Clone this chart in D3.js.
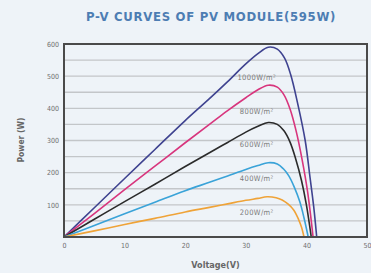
<!DOCTYPE html>
<html>
<head>
<meta charset="utf-8">
<script src="https://cdn.jsdelivr.net/npm/d3@7"></script>
<style>
  body { margin: 0; background: #eef3f8; }
  svg { display: block; }
</style>
</head>
<body>
<div class="center"></div>
<script>
// irradiance series (label, colour) and their P-V points [voltage, power]
const seriesNames = ["1000W/m²", "800W/m²", "600W/m²", "400W/m²", "200W/m²"];
const seriesColors = ["#3f4390", "#d8357d", "#2b2b2b", "#3aa3d8", "#efa338"];

const curve1000 = [[0,0],[5,91],[10,182],[15,272],[20,362],[24,430],[27,483],[30,538],[32,570],[33.7,590],[35.2,584],[36.4,556],[37.4,505],[38.5,420],[39.8,300],[40.6,185],[41.2,95],[41.7,0]];
const curve800  = [[0,0],[5,73],[10,147],[15,220],[20,293],[24,350],[27,393],[30,433],[32,458],[33.7,472],[35.2,466],[36.3,442],[37.3,398],[38.3,330],[39.3,240],[40.2,140],[41.1,0]];
const curve600  = [[0,0],[5,55],[10,110],[15,164],[20,219],[24,262],[27,294],[30,326],[32,344],[33.7,356],[35.2,350],[36.3,330],[37.3,295],[38.2,245],[39.2,175],[40,100],[40.8,0]];
const curve400  = [[0,0],[5,36],[10,72],[15,108],[20,144],[24,170],[27,190],[30,210],[32,222],[33.7,231],[35.2,227],[36.2,212],[37.1,190],[38,155],[38.9,110],[39.6,60],[40.3,0]];
const curve200  = [[0,0],[5,19],[10,39],[15,58],[20,78],[24,92],[27,103],[30,114],[32,120],[33.5,125],[35,122],[36,115],[37,102],[37.9,84],[38.7,55],[39.2,30],[39.6,0]];
const curves = [curve1000, curve800, curve600, curve400, curve200];

// axis ticks
const xTicks = [0, 10, 20, 30, 40, 50];
const yTicks = [100, 200, 300, 400, 500, 600];
const gridLines = [50, 100, 150, 200, 250, 300, 350, 400, 450, 500, 550];

// Set the dimensions of the canvas / graph
const W = 371, H = 273;
const margin = {top: 44, right: 4, bottom: 36, left: 64};
const width = W - margin.left - margin.right;
const height = H - margin.top - margin.bottom;

const xScale = d3.scaleLinear().domain([0, 50]).range([0, width]);
const yScale = d3.scaleLinear().domain([0, 600]).range([height, 0]);

const svg = d3.select(".center").append("svg")
    .attr("width", W)
    .attr("height", H);

const g = svg.append("g")
    .attr("transform", `translate(${margin.left},${margin.top})`);

// title
svg.append("text")
   .attr("x", 211)
   .attr("y", 21)
   .attr("text-anchor", "middle")
   .style("font-family", "DejaVu Sans Condensed, DejaVu Sans")
   .style("font-size", "13px")
   .style("font-weight", "700")
   .style("letter-spacing", "0.7px")
   .style("fill", "#4d7db3")
   .text("P-V CURVES OF PV MODULE(595W)");

// horizontal grid
g.selectAll(".grid")
 .data(gridLines)
 .enter().append("line")
 .attr("x1", 0)
 .attr("x2", width)
 .attr("y1", d => yScale(d))
 .attr("y2", d => yScale(d))
 .style("stroke", "#c3c6c9")
 .style("stroke-width", 1.3);

// curves
const line = d3.line()
    .x(d => xScale(d[0]))
    .y(d => yScale(d[1]))
    .curve(d3.curveCatmullRom.alpha(0.5));

g.selectAll(".pv")
 .data(curves)
 .enter().append("path")
 .attr("d", line)
 .style("fill", "none")
 .style("stroke", (d, i) => seriesColors[i])
 .style("stroke-width", 1.6);

// frame
g.append("rect")
 .attr("x", 0)
 .attr("y", 0)
 .attr("width", width)
 .attr("height", height)
 .style("fill", "none")
 .style("stroke", "#4a4a4a")
 .style("stroke-width", 2);

// y axis labels
const yAxis = d3.axisLeft(yScale).tickValues(yTicks).tickSize(0).tickPadding(5);
g.append("g")
 .call(yAxis)
 .call(s => s.select(".domain").remove())
 .selectAll("text")
 .style("font-family", "DejaVu Sans Condensed, DejaVu Sans")
 .style("font-size", "7px")
 .style("fill", "#6f6f6f");

// x axis labels
const xAxis = d3.axisBottom(xScale).tickValues(xTicks).tickSize(0).tickPadding(6);
g.append("g")
 .attr("transform", `translate(0,${height})`)
 .call(xAxis)
 .call(s => s.select(".domain").remove())
 .selectAll("text")
 .style("font-family", "DejaVu Sans Condensed, DejaVu Sans")
 .style("font-size", "7px")
 .style("fill", "#6f6f6f");

// curve labels
g.selectAll(".lbl")
 .data(seriesNames)
 .enter().append("text")
 .attr("x", xScale(31.8))
 .attr("y", (d, i) => 36 + i * 33.7)
 .attr("text-anchor", "middle")
 .style("font-family", "DejaVu Sans Condensed, DejaVu Sans")
 .style("font-size", "7.5px")
 .style("letter-spacing", "0.4px")
 .style("fill", "#7a7a7a")
 .text(d => d);

// axis titles
svg.append("text")
   .attr("x", margin.left + width / 2)
   .attr("y", 268)
   .attr("text-anchor", "middle")
   .style("font-family", "DejaVu Sans Condensed, DejaVu Sans")
   .style("font-size", "9px")
   .style("font-weight", "700")
   .style("fill", "#666")
   .text("Voltage(V)");

svg.append("text")
   .attr("transform", "translate(24,140) rotate(-90)")
   .attr("text-anchor", "middle")
   .style("font-family", "DejaVu Sans Condensed, DejaVu Sans")
   .style("font-size", "8.5px")
   .style("font-weight", "700")
   .style("fill", "#666")
   .text("Power (W)");
</script>
</body>
</html>
